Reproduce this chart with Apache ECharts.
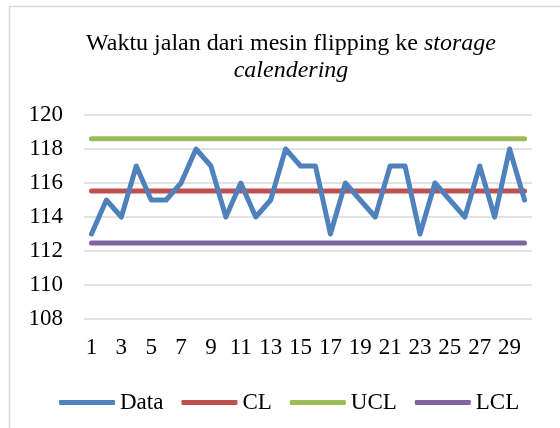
<!DOCTYPE html>
<html>
<head>
<meta charset="utf-8">
<script src="https://cdn.jsdelivr.net/npm/echarts@6/dist/echarts.min.js"></script>
<style>
  html, body { margin: 0; padding: 0; background: #fff; }
  #chart { width: 560px; height: 428px; }
</style>
</head>
<body>
<div id="chart"></div>
<script>
// observation number 1..30
const categories = ['1','2','3','4','5','6','7','8','9','10','11','12','13','14','15','16','17','18','19','20','21','22','23','24','25','26','27','28','29','30']
const dataValues = [113,115,114,117,115,115,116,118,117,114,116,114,115,118,117,117,113,116,115,114,117,117,113,116,115,114,117,114,118,115]
// control limits
const clValue = 115.53
const uclValue = 118.6
const lclValue = 112.47
const seriesNames = ['Data', 'CL', 'UCL', 'LCL']
const seriesColors = ['#4F81BD', '#C0504D', '#9BBB59', '#8064A2']

const chart = echarts.init(document.getElementById('chart'))
const font = '"Liberation Serif", "Times New Roman", serif'

const flat = v => categories.map(() => v)
const lineData = [dataValues, flat(clValue), flat(uclValue), flat(lclValue)]

chart.setOption({
  animation: false,
  textStyle: { fontFamily: font },
  graphic: [
    {
      type: 'rect',
      shape: { x: 9.5, y: 6.5, width: 700, height: 600 },
      style: { fill: 'none', stroke: '#D9D9D9', lineWidth: 1.5 }
    }
  ],
  title: {
    text: '{n|Waktu jalan dari mesin flipping ke }{i|storage}\n{i|calendering}',
    left: 286,
    textAlign: 'center',
    top: 25,
    textStyle: {
      fontWeight: 'normal',
      rich: {
        n: { fontFamily: font, fontSize: 24, color: '#000', fontWeight: 'normal', lineHeight: 27 },
        i: { fontFamily: font, fontSize: 24, color: '#000', fontWeight: 'normal', fontStyle: 'italic', lineHeight: 27 }
      }
    }
  },
  legend: {
    left: 54,
    top: 386,
    icon: 'roundRect',
    itemWidth: 56,
    itemHeight: 5,
    itemGap: 18,
    data: seriesNames,
    textStyle: { fontFamily: font, fontSize: 23, color: '#000' }
  },
  grid: { left: 84, right: 28, top: 115, bottom: 109 },
  xAxis: {
    type: 'category',
    data: categories,
    boundaryGap: true,
    axisLine: { show: false },
    axisTick: { show: false },
    axisLabel: { interval: 1, margin: 17, fontFamily: font, fontSize: 23, color: '#000' }
  },
  yAxis: {
    type: 'value',
    min: 108,
    max: 120,
    interval: 2,
    axisLine: { show: false },
    axisTick: { show: false },
    axisLabel: { margin: 21, fontFamily: font, fontSize: 23, color: '#000' },
    splitLine: { lineStyle: { color: '#D9D9D9', width: 1.5 } }
  },
  series: seriesNames.map((name, i) => ({
    name: name,
    type: 'line',
    data: lineData[i],
    symbol: 'none',
    z: i === 0 ? 3 : 2,
    lineStyle: { color: seriesColors[i], width: 5, cap: 'round', join: 'round' },
    itemStyle: { color: seriesColors[i] }
  }))
})
</script>
</body>
</html>
